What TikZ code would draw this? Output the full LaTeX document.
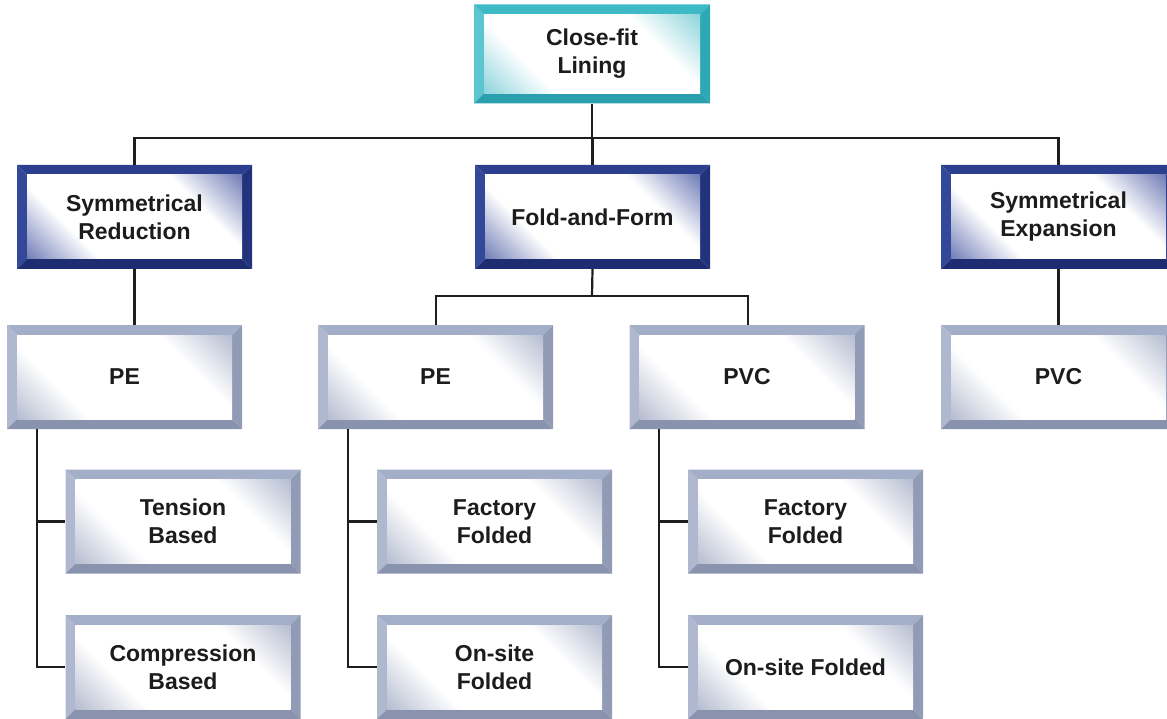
\documentclass[tikz,border=0pt]{standalone}
\usepackage{fontspec}
\setmainfont{Liberation Sans}
\usetikzlibrary{calc}

% bevel colours: top, left, bottom, right, corner tint
\definecolor{cyT}{HTML}{3DBAC6}
\definecolor{cyL}{HTML}{5CC6D0}
\definecolor{cyB}{HTML}{2A9FAD}
\definecolor{cyR}{HTML}{2FA8B6}
\definecolor{cyC}{HTML}{62C4CF}
\definecolor{nvT}{HTML}{2C3F8F}
\definecolor{nvL}{HTML}{34489A}
\definecolor{nvB}{HTML}{1E2C72}
\definecolor{nvR}{HTML}{23327C}
\definecolor{nvC}{HTML}{3B4D9C}
\definecolor{gyT}{HTML}{A3AEC8}
\definecolor{gyL}{HTML}{B0B8CF}
\definecolor{gyB}{HTML}{8A93AD}
\definecolor{gyR}{HTML}{929BB5}
\definecolor{gyC}{HTML}{9AA4BF}
\definecolor{txt}{HTML}{1C1C1C}
\definecolor{wire}{HTML}{1E1E1E}

% white face with tinted top-right and bottom-left corners
\pgfdeclareverticalshading{cyface}{100bp}{color(0bp)=(cyC); color(14bp)=(cyC!75); color(32bp)=(white); color(68bp)=(white); color(86bp)=(cyC!75); color(100bp)=(cyC)}
\pgfdeclareverticalshading{nvface}{100bp}{color(0bp)=(nvC); color(14bp)=(nvC!75); color(32bp)=(white); color(68bp)=(white); color(86bp)=(nvC!75); color(100bp)=(nvC)}
\pgfdeclareverticalshading{gyface}{100bp}{color(0bp)=(gyC); color(14bp)=(gyC!75); color(32bp)=(white); color(68bp)=(white); color(86bp)=(gyC!75); color(100bp)=(gyC)}

% bevelled frame drawn inside a node: #1 top, #2 left, #3 bottom, #4 right, #5 face shading
\newcommand\bevelframe[5]{%
  \path (path picture bounding box.north west) coordinate (bw-nw)
        (path picture bounding box.north east) coordinate (bw-ne)
        (path picture bounding box.south west) coordinate (bw-sw)
        (path picture bounding box.south east) coordinate (bw-se);
  \path ([shift={(10pt,-10pt)}]bw-nw) coordinate (bi-nw)
        ([shift={(-10pt,-10pt)}]bw-ne) coordinate (bi-ne)
        ([shift={(10pt,10pt)}]bw-sw) coordinate (bi-sw)
        ([shift={(-10pt,10pt)}]bw-se) coordinate (bi-se);
  \fill[#1] (bw-nw) -- (bw-ne) -- (bi-ne) -- (bi-nw) -- cycle;
  \fill[#2] (bw-nw) -- (bi-nw) -- (bi-sw) -- (bw-sw) -- cycle;
  \fill[#3] (bw-sw) -- (bi-sw) -- (bi-se) -- (bw-se) -- cycle;
  \fill[#4] (bw-ne) -- (bw-se) -- (bi-se) -- (bi-ne) -- cycle;
  \shade[shading=#5, shading angle=-45] (bi-sw) rectangle (bi-ne);
}

\tikzset{
  boxbase/.style={minimum width=235pt, minimum height=104pt, inner sep=0pt,
    align=center, text=txt, font=\bfseries\fontsize{23}{28}\selectfont},
  rootbox/.style={boxbase, minimum width=236pt, minimum height=99pt,
    path picture={\bevelframe{cyT}{cyL}{cyB}{cyR}{cyface}}},
  methodbox/.style={boxbase, path picture={\bevelframe{nvT}{nvL}{nvB}{nvR}{nvface}}},
  leafbox/.style={boxbase, path picture={\bevelframe{gyT}{gyL}{gyB}{gyR}{gyface}}},
  conn/.style={draw=wire, line width=2.2pt},
}

\begin{document}
\begin{tikzpicture}[x=1pt, y=-1pt]
\useasboundingbox (0,0) rectangle (1167,719);

% root
\node[rootbox] (root) at (592,54) {Close-fit\\Lining};

% methods
\node[methodbox] (sr) at (134.5,217) {Symmetrical\\Reduction};
\node[methodbox] (ff) at (592.5,217) {Fold-and-Form};
\node[methodbox] (se) at (1058.5,217) {Symmetrical\\Expansion};

% materials
\node[leafbox] (pel) at (124.5,377) {PE};
\node[leafbox] (pem) at (435.5,377) {PE};
\node[leafbox] (pvcm) at (747,377) {PVC};
\node[leafbox] (pvcr) at (1058.5,377) {PVC};

% variants
\node[leafbox] (tb) at (183,521.5) {Tension\\Based};
\node[leafbox] (cb) at (183,667) {Compression\\Based};
\node[leafbox] (ffm) at (494.5,521.5) {Factory\\Folded};
\node[leafbox] (osm) at (494.5,667) {On-site\\Folded};
\node[leafbox] (ffr) at (805.5,521.5) {Factory\\Folded};
\node[leafbox] (osr) at (805.5,667) {On-site Folded};

% bus lines
\coordinate (bus1) at (592,138);
\coordinate (bus2) at (592,296);

\draw[conn] (root.south) -- (bus1);
\draw[conn] (sr.north) -- (sr.north |- bus1) -- (se.north |- bus1) -- (se.north);
\draw[conn] (ff.north) -- (ff.north |- bus1);

\draw[conn] (sr.south) -- (sr.south |- pel.north);
\draw[conn] (se.south) -- (pvcr.north);

\draw[conn] (ff.south) -- (bus2);
\draw[conn] ([xshift=0.5pt]pem.north) -- ([xshift=0.5pt]pem.north |- bus2) -- ([xshift=1pt]pvcm.north |- bus2) -- ([xshift=1pt]pvcm.north);

\coordinate (pelx) at ([xshift=30pt]pel.south west);
\coordinate (pemx) at ([xshift=30pt]pem.south west);
\coordinate (pvcx) at ([xshift=30pt]pvcm.south west);

\draw[conn] (pelx) |- (cb.west);
\draw[conn] (pelx |- tb.west) -- (tb.west);
\draw[conn] (pemx) |- (osm.west);
\draw[conn] (pemx |- ffm.west) -- (ffm.west);
\draw[conn] (pvcx) |- (osr.west);
\draw[conn] (pvcx |- ffr.west) -- (ffr.west);
\end{tikzpicture}
\end{document}
